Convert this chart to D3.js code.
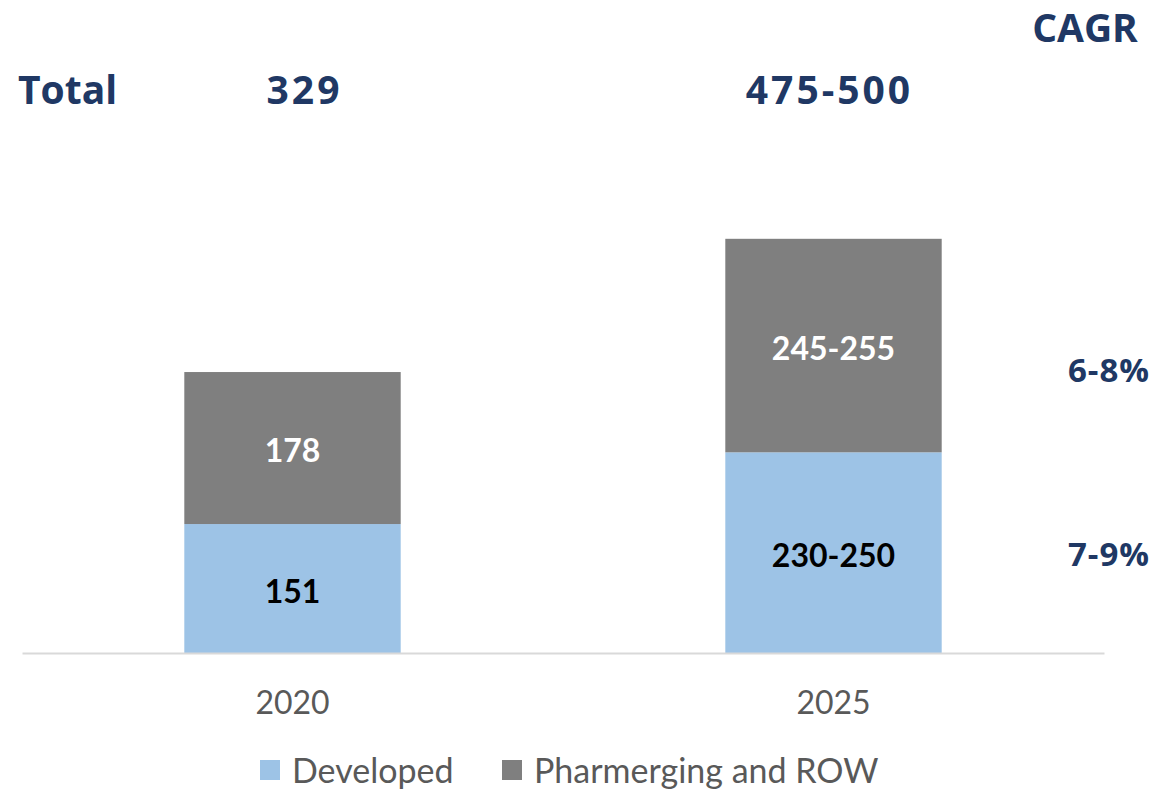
<!DOCTYPE html>
<html><head><meta charset="utf-8">
<script src="https://cdn.jsdelivr.net/npm/d3@7/dist/d3.min.js"></script>
<style>body{margin:0;background:#fff}svg{display:block}</style>
</head><body><svg id="c" width="1158" height="789"></svg>
<script>
const categories = ["2020", "2025"];
const seriesNames = ["Developed", "Pharmerging and ROW"];
const developed = [151, 235];
const pharmerging = [178, 250];
const developedLabels = ["151", "230-250"];
const pharmergingLabels = ["178", "245-255"];
const totalLabels = ["329", "475-500"];
const cagrLabels = ["7-9%", "6-8%"]; // Developed, Pharmerging

const colors = ["#9dc3e6", "#7f7f7f"];
const navy = "#203864";
const svg = d3.select("#c");

const x = d3.scaleBand().domain(categories).range([22, 1104]).paddingInner(0.6).paddingOuter(0.3);
const y = d3.scaleLinear().domain([0, 500]).range([653, 226]);

const rows = categories.map((c, i) => ({cat: c, Developed: developed[i], "Pharmerging and ROW": pharmerging[i]}));
const stack = d3.stack().keys(seriesNames)(rows);
const labels = [developedLabels, pharmergingLabels];

stack.forEach((s, si) => {
  svg.append("g").selectAll("rect").data(s).join("rect")
    .attr("x", d => x(d.data.cat)).attr("width", x.bandwidth())
    .attr("y", d => y(d[1])).attr("height", d => y(d[0]) - y(d[1]))
    .attr("fill", colors[si]);
  svg.append("g").selectAll("text").data(s).join("text")
    .attr("x", d => x(d.data.cat) + x.bandwidth() / 2)
    .attr("y", d => (y(d[0]) + y(d[1])) / 2 + 3)
    .attr("dy", "0.35em").attr("text-anchor", "middle")
    .attr("font-family", "Lato, 'Open Sans', sans-serif").attr("font-weight", 700)
    .attr("font-size", 32).attr("fill", si === 0 ? "#000" : "#fff")
    .text((d, i) => labels[si][i]);
});

// axis
const xAxis = svg.append("g").attr("transform", `translate(0,${y(0)})`)
  .call(d3.axisBottom(x).tickSize(0).tickPadding(38));
xAxis.select(".domain").attr("stroke", "#d9d9d9").attr("stroke-width", 2);
xAxis.selectAll("text").attr("font-family", "Lato, sans-serif").attr("font-size", 32).attr("fill", "#595959");

// totals
const hdr = {"font-family": "'Open Sans', sans-serif", "font-weight": 700, "font-size": 39, "fill": navy};
function t(sel, attrs) { Object.entries(attrs).forEach(([k, v]) => sel.attr(k, v)); return sel; }
t(svg.append("text").attr("x", 18).attr("y", 104).text("Total"), hdr);
t(svg.append("g").selectAll("text").data(categories).join("text")
  .attr("x", (d, i) => x(d) + x.bandwidth() / 2 + (i === 0 ? 12 : -4)).attr("y", 104).attr("text-anchor", "middle")
  .attr("letter-spacing", 3)
  .text((d, i) => totalLabels[i]), hdr);
t(svg.append("text").attr("x", 1085).attr("y", 42).attr("text-anchor", "middle").text("CAGR"), hdr);

// CAGR per series, aligned with 2025 segments
const last = categories.length - 1;
stack.forEach((s, si) => {
  const d = s[last];
  t(svg.append("text").attr("x", 1109).attr("y", (y(d[0]) + y(d[1])) / 2 + 25)
    .attr("dy", si === 0 ? "-0.35em" : "0.35em").attr("text-anchor", "middle")
    .attr("letter-spacing", 1).text(cagrLabels[si]),
    {"font-family": "'Open Sans', sans-serif", "font-weight": 700, "font-size": 33, "fill": navy});
});

// legend
const legX = [260, 502];
seriesNames.forEach((n, i) => {
  svg.append("rect").attr("x", legX[i]).attr("y", 760).attr("width", 20).attr("height", 20).attr("fill", colors[i]);
  svg.append("text").attr("x", legX[i] + 32).attr("y", 771).attr("dy", "0.35em")
    .attr("font-family", "Lato, sans-serif").attr("font-size", 34).attr("fill", "#595959").text(n);
});
</script></body></html>
